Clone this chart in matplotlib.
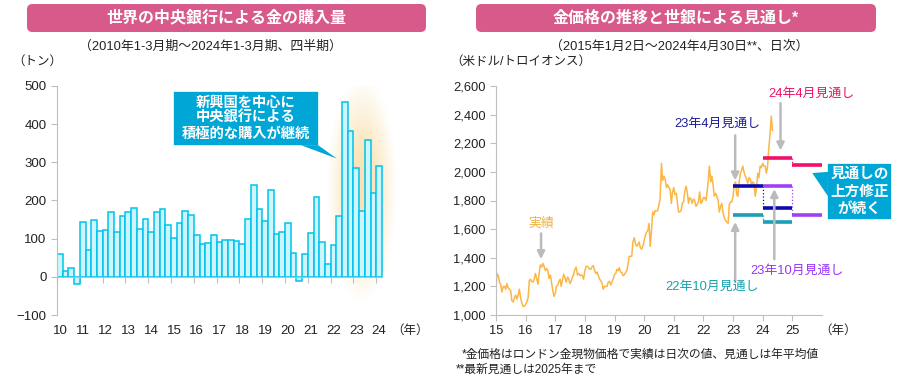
import numpy as np
import pandas as pd
import matplotlib
matplotlib.use("Agg")
import matplotlib.pyplot as plt
from matplotlib.patches import FancyBboxPatch, Rectangle, Polygon

plt.rcParams['font.family'] = ['Liberation Sans', 'Noto Sans CJK JP']

# ---- data: central bank gold purchases (tonnes, quarterly) ----
quarters = pd.period_range("2010Q1", "2024Q1", freq="Q")
cb_tonnes = [59, 15, 22, -19,
             143, 70, 148, 120,
             122, 169, 117, 159,
             169, 180, 125, 151,
             117, 169, 177, 135,
             101, 140, 172, 161,
             109, 86, 88, 109,
             91, 96, 96, 94,
             86, 151, 240, 177,
             146, 227, 112, 118,
             140, 62, -11, 59,
             115, 209, 91, 33,
             83, 159, 457, 381,
             284, 172, 358, 219,
             290]
left_years = list(range(2010, 2025))

# ---- data: gold price (USD/oz), read roughly twice a month ----
gold_2015 = [1190, 1290, 1270, 1225, 1210, 1160, 1200, 1200, 1180, 1220, 1190, 1180,
             1170, 1100, 1090, 1120, 1140, 1110, 1140, 1180, 1120, 1085, 1060, 1060]
gold_2016 = [1075, 1090, 1120, 1240, 1250, 1235, 1230, 1250, 1290, 1255, 1215, 1290,
             1350, 1335, 1360, 1340, 1310, 1325, 1310, 1255, 1280, 1225, 1170, 1130]
gold_2017 = [1150, 1200, 1210, 1235, 1250, 1200, 1250, 1285, 1260, 1230, 1265, 1255,
             1220, 1235, 1265, 1285, 1320, 1335, 1280, 1290, 1275, 1280, 1275, 1250]
gold_2018 = [1310, 1340, 1340, 1330, 1320, 1320, 1340, 1345, 1310, 1290, 1300, 1275,
             1250, 1240, 1220, 1180, 1200, 1200, 1200, 1230, 1235, 1210, 1230, 1250]
gold_2019 = [1285, 1290, 1320, 1310, 1330, 1300, 1295, 1275, 1280, 1295, 1310, 1350,
             1410, 1410, 1410, 1510, 1540, 1500, 1480, 1490, 1510, 1470, 1460, 1480]
gold_2020 = [1520, 1555, 1580, 1590, 1640, 1480, 1600, 1720, 1700, 1730, 1725, 1730,
             1770, 1810, 2060, 1940, 1970, 1950, 1890, 1910, 1890, 1880, 1780, 1860]
gold_2021 = [1890, 1840, 1850, 1780, 1720, 1720, 1730, 1780, 1790, 1860, 1900, 1860,
             1780, 1820, 1810, 1780, 1810, 1800, 1760, 1770, 1790, 1860, 1780, 1790]
gold_2022 = [1820, 1820, 1800, 1860, 1940, 2040, 1930, 1970, 1900, 1830, 1850, 1830,
             1800, 1720, 1760, 1780, 1710, 1680, 1660, 1650, 1640, 1770, 1790, 1790]
gold_2023 = [1830, 1910, 1930, 1840, 1830, 1920, 1990, 2010, 2040, 2000, 1970, 1950,
             1920, 1960, 1950, 1910, 1930, 1920, 1830, 1880, 1990, 1960, 2040, 2030]
gold_2024 = [2060, 2040, 2040, 1990, 2040, 2160, 2270, 2390, 2290]

# World Bank forecasts (annual averages)
fc_22oct_years, fc_22oct = [2023, 2024], [1700, 1650]
fc_23apr_years, fc_23apr = [2023, 2024], [1900, 1750]
fc_23oct_years, fc_23oct = [2024, 2025], [1900, 1700]
fc_24apr_years, fc_24apr = [2024, 2025], [2100, 2050]

gold_vals = (gold_2015 + gold_2016 + gold_2017 + gold_2018 + gold_2019 +
             gold_2020 + gold_2021 + gold_2022 + gold_2023 + gold_2024)
gold_dates = pd.date_range("2015-01-01", periods=len(gold_vals) - 1, freq="SMS")
gold_dates = gold_dates.append(pd.DatetimeIndex(["2024-04-30"]))
gold_x = gold_dates.year + (gold_dates.dayofyear - 1) / 365.25

GREY = '#BFBFBF'
TXT = '#222222'
PINK = '#D85A8A'
BLUE_BOX = '#00A6D6'

fig = plt.figure(figsize=(9, 3.8), dpi=100)

# ---- title banners ----
for x0, x1, title in [(27, 426, '世界の中央銀行による金の購入量'),
                      (476, 876, '金価格の推移と世銀による見通し*')]:
    fig.patches.append(FancyBboxPatch((x0 / 900, 1 - 32 / 380), (x1 - x0) / 900, 28 / 380,
                                      boxstyle="round,pad=0,rounding_size=0.006",
                                      mutation_aspect=900 / 380,
                                      transform=fig.transFigure, facecolor=PINK,
                                      edgecolor='none'))
    fig.text((x0 + x1) / 2 / 900, 1 - 18 / 380, title, ha='center', va='center',
             color='white', fontsize=11.5, fontweight='bold')

fig.text(210 / 900, 1 - 47 / 380, '（2010年1-3月期～2024年1-3月期、四半期）',
         ha='center', va='center', fontsize=9.3, color=TXT)
fig.text(679 / 900, 1 - 47 / 380, '（2015年1月2日～2024年4月30日**、日次）',
         ha='center', va='center', fontsize=9.3, color=TXT)
fig.text(12 / 900, 1 - 62 / 380, '（トン）', ha='left', va='center', fontsize=9, color=TXT)
fig.text(450 / 900, 1 - 62 / 380, '（米ドル/トロイオンス）', ha='left', va='center',
         fontsize=9, color=TXT)
fig.text(462 / 900, 1 - 355 / 380, '*金価格はロンドン金現物価格で実績は日次の値、見通しは年平均値',
         ha='left', va='center', fontsize=8.5, color=TXT)
fig.text(456 / 900, 1 - 370 / 380, '**最新見通しは2025年まで',
         ha='left', va='center', fontsize=8.5, color=TXT)

# ================= left chart =================
ax1 = fig.add_axes([57 / 900, 65 / 380, 342 / 900, 229 / 380])
ax1.set_xlim(2010, 2025)
ax1.set_ylim(-100, 500)
ax1.patch.set_alpha(0)

# soft glow behind 2022-2024
gx = np.linspace(-1, 1, 200)
GX, GY = np.meshgrid(gx, gx)
r = np.sqrt(GX ** 2 + GY ** 2)
glow = np.zeros((200, 200, 4))
glow[..., 0], glow[..., 1], glow[..., 2] = 0.98, 0.89, 0.70
glow[..., 3] = np.clip(1 - r ** 2, 0, 1) ** 1.4
ax1.imshow(glow, extent=(2021.8, 2024.95, -75, 530), aspect='auto', zorder=0,
           interpolation='bilinear')

bar_x = [q.year + (q.quarter - 1) / 4 for q in quarters]
ax1.bar(bar_x, cb_tonnes, width=0.25, align='edge', color='#CDF5FD',
        edgecolor='#00C3EE', linewidth=1.1, zorder=2)

for s in ['top', 'right']:
    ax1.spines[s].set_visible(False)
ax1.spines['left'].set_color(GREY)
ax1.spines['bottom'].set_color(GREY)
ax1.spines['bottom'].set_position(('data', 0))
ax1.spines['bottom'].set_bounds(2010, 2024.25)
ax1.spines['bottom'].set_zorder(3)
ax1.set_xticks(left_years)
ax1.tick_params(axis='x', labelbottom=False, length=4, color=GREY)
ax1.set_yticks(range(-100, 501, 100))
ax1.tick_params(axis='y', length=4, color=GREY, labelsize=9.5, labelcolor=TXT)
for yr in left_years:
    ax1.text(yr + 0.13, -0.07, f'{yr % 100:02d}', transform=ax1.get_xaxis_transform(),
             ha='center', va='center', fontsize=9.5, color=TXT)
ax1.text(2025.5, -0.07, '（年）', transform=ax1.get_xaxis_transform(),
         ha='center', va='center', fontsize=9, color=TXT, clip_on=False)

# callout
ax1.add_patch(Rectangle((2015.09, 343), 6.4, 144, facecolor=BLUE_BOX, edgecolor='white',
                        linewidth=1.2, zorder=4))
ax1.add_patch(Polygon([(2020.7, 345), (2021.45, 345), (2022.27, 310)], closed=True,
                      facecolor=BLUE_BOX, edgecolor='none', zorder=4))
ax1.text(2018.29, 416, '新興国を中心に\n中央銀行による\n積極的な購入が継続', ha='center',
         va='center', color='white', fontsize=10.3, fontweight='bold', linespacing=1.12,
         zorder=5)

# ================= right chart =================
ax2 = fig.add_axes([496 / 900, 65 / 380, 326 / 900, 229 / 380])
ax2.set_xlim(2015, 2026)
ax2.set_ylim(1000, 2600)
ax2.patch.set_alpha(0)

ax2.plot(gold_x, gold_vals, color='#FBB647', linewidth=1.1, zorder=2)

fc_list = [(fc_22oct_years, fc_22oct, '#1A9FB5'),
           (fc_23apr_years, fc_23apr, '#0A0AB4'),
           (fc_23oct_years, fc_23oct, '#A040F5'),
           (fc_24apr_years, fc_24apr, '#F0106A')]
for yrs, vals, c in fc_list:
    ax2.hlines(vals, yrs, [y + 1 for y in yrs], colors=c, linewidth=2.6, zorder=4)
    ax2.vlines(yrs[1], vals[0], vals[1], colors=c, linewidth=0.9, linestyles=':', zorder=3)

for s in ['top', 'right']:
    ax2.spines[s].set_visible(False)
ax2.spines['left'].set_color(GREY)
ax2.spines['bottom'].set_color(GREY)
ax2.set_xticks(range(2015, 2026))
ax2.set_xticklabels([f'{y % 100}' for y in range(2015, 2026)])
ax2.set_yticks(range(1000, 2601, 200))
ax2.set_yticklabels([f'{v:,}' for v in range(1000, 2601, 200)])
ax2.tick_params(length=4, color=GREY, labelsize=9.3, labelcolor=TXT)
ax2.text(2026.55, -0.07, '（年）', transform=ax2.get_xaxis_transform(),
         ha='center', va='center', fontsize=9, color=TXT, clip_on=False)

arrow = dict(arrowstyle='-|>', color='#BBBBBB', lw=1.8, mutation_scale=11,
             shrinkA=0, shrinkB=0)
labels = [('実績', 2016.52, 1636, 1570, 1390, '#F2B140'),
          ('23年4月見通し', 2022.47, 2335, 2255, 1940, '#1C1C9C'),
          ('24年4月見通し', 2025.64, 2544, 2480, 2150, '#EE1166'),
          ('22年10月見通し', 2022.3, 1197, 1230, 1650, '#17A2AC'),
          ('23年10月見通し', 2025.14, 1309, 1390, 1880, '#9933FF')]
arrow_x = [2016.52, 2023.07, 2024.6, 2023.07, 2024.39]
for (txt, tx, ty, a0, a1, c), axx in zip(labels, arrow_x):
    ax2.text(tx, ty, txt, ha='center', va='center', color=c, fontsize=9.3, zorder=6)
    ax2.annotate('', xy=(axx, a1), xytext=(axx, a0), arrowprops=arrow, zorder=5)

# right callout
ax2.add_patch(Rectangle((2026.17, 1665), 2.2, 397, facecolor=BLUE_BOX, edgecolor='white',
                        linewidth=1.2, zorder=4, clip_on=False))
ax2.add_patch(Polygon([(2025.67, 1992), (2026.2, 2000), (2026.2, 1830)], closed=True,
                      facecolor=BLUE_BOX, edgecolor='none', zorder=4, clip_on=False))
ax2.text(2027.27, 1863, '見通しの\n上方修正\nが続く', ha='center', va='center',
         color='white', fontsize=10.5, fontweight='bold', linespacing=1.3, zorder=5,
         clip_on=False)

fig.savefig('out.png', dpi=100)
